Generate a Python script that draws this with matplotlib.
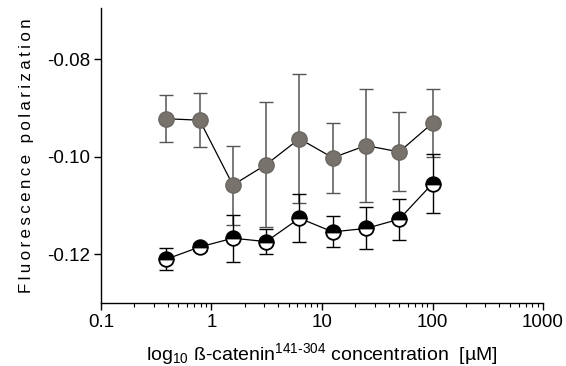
import matplotlib
matplotlib.use("Agg", force=True)

import matplotlib.pyplot as plt
from matplotlib.ticker import LogLocator, NullFormatter, FixedLocator, FormatStrFormatter

plt.rcParams["font.family"] = ["Liberation Sans", "DejaVu Sans"]
plt.rcParams["mathtext.fontset"] = "custom"
plt.rcParams["mathtext.rm"] = "Liberation Sans"
plt.rcParams["mathtext.it"] = "Liberation Sans"
plt.rcParams["mathtext.bf"] = "Liberation Sans"

# two-fold dilution series, µM
conc = [0.390625, 0.78125, 1.5625, 3.125, 6.25, 12.5, 25, 50, 100]

# grey series
fp_grey = [-0.0922, -0.0925, -0.1058, -0.1016, -0.0963, -0.1002, -0.0977, -0.0990, -0.0931]
err_grey = [0.0048, 0.0055, 0.0081, 0.0129, 0.0132, 0.0072, 0.0116, 0.0081, 0.0069]

# half-filled series
fp_half = [-0.1210, -0.1185, -0.1167, -0.1174, -0.1126, -0.1154, -0.1147, -0.1128, -0.1055]
err_half = [0.0023, 0.0008, 0.0048, 0.0025, 0.0049, 0.0032, 0.0043, 0.0042, 0.0061]

yticks = [-0.12, -0.10, -0.08]

fig = plt.figure(figsize=(5.66, 3.66), dpi=100)
ax = fig.add_axes([0.1784, 0.172, 0.781, 0.806])

ax.plot(conc, fp_grey, color="black", lw=0.9, zorder=2)
ax.errorbar(conc, fp_grey, yerr=err_grey, fmt="o", ms=11, mfc="#77726c", mec="#6a6660",
            mew=1, ecolor="#555555", elinewidth=1.1, capsize=5, capthick=1.2, zorder=3)

ax.plot(conc, fp_half, color="black", lw=0.9, zorder=4)
ax.errorbar(conc, fp_half, yerr=err_half, fmt="none", ecolor="black",
            elinewidth=1, capsize=5, capthick=1, zorder=4)
ax.plot(conc, fp_half, "o", ms=10.5, fillstyle="top", mfc="black", mfcalt="white",
        mec="black", mew=1.3, zorder=5)

ax.set_xscale("log")
ax.set_xlim(0.1, 1000)
ax.set_ylim(-0.13, -0.0695)
ax.xaxis.set_major_locator(FixedLocator([0.1, 1, 10, 100, 1000]))
ax.xaxis.set_minor_locator(LogLocator(base=10, subs=range(2, 10)))
ax.xaxis.set_minor_formatter(NullFormatter())
ax.set_xticklabels(["0.1", "1", "10", "100", "1000"])
ax.yaxis.set_major_locator(FixedLocator(yticks))
ax.yaxis.set_major_formatter(FormatStrFormatter("%.2f"))

for s in ["top", "right"]:
    ax.spines[s].set_visible(False)
for s in ["left", "bottom"]:
    ax.spines[s].set_linewidth(1)

ax.tick_params(axis="both", which="major", direction="out", length=5, width=1,
               labelsize=13.5, pad=3)
ax.tick_params(axis="x", which="minor", direction="out", length=3, width=0.8)

ax.set_xlabel(r"log$_{10}$ ß-catenin$^{\text{141-304}}$ concentration  [µM]",
              fontsize=14, labelpad=7)
ax.set_ylabel("\u2009".join("Fluorescence polarization"),
              fontsize=12.2, labelpad=9)

fig.savefig("out.png", dpi=100)
